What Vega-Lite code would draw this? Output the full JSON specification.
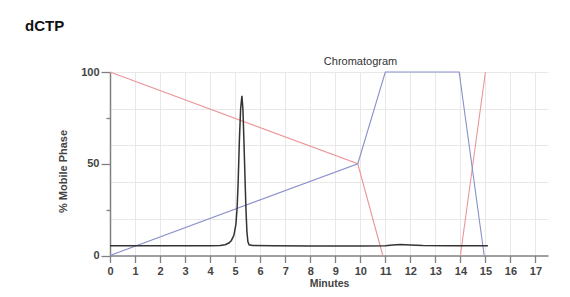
{
  "$schema": "https://vega.github.io/schema/vega-lite/v6.json",
  "autosize": "none",
  "width": 438,
  "height": 183.5,
  "padding": {"left": 110, "top": 72, "right": 22, "bottom": 41.5},
  "background": "#ffffff",
  "config": {"font": "Liberation Sans", "view": {"stroke": null}},
  "title": {"text": "dCTP", "anchor": "start", "frame": "group", "dx": -85, "offset": 9, "baseline": "alphabetic", "fontSize": 15, "fontWeight": "bold", "color": "#111111"},
  "datasets": {
    "chrom": [
      {"t": 0, "v": 5.3}, {"t": 1, "v": 5.3}, {"t": 2, "v": 5.3}, {"t": 3, "v": 5.3}, {"t": 4, "v": 5.3},
      {"t": 4.4, "v": 5.5}, {"t": 4.6, "v": 5.9}, {"t": 4.75, "v": 6.8}, {"t": 4.85, "v": 8.2}, {"t": 4.95, "v": 11},
      {"t": 5.03, "v": 17}, {"t": 5.08, "v": 26}, {"t": 5.12, "v": 40}, {"t": 5.17, "v": 63}, {"t": 5.22, "v": 80},
      {"t": 5.27, "v": 87}, {"t": 5.31, "v": 80}, {"t": 5.35, "v": 63}, {"t": 5.39, "v": 44}, {"t": 5.43, "v": 26},
      {"t": 5.47, "v": 13}, {"t": 5.51, "v": 7.5}, {"t": 5.56, "v": 5.8}, {"t": 5.7, "v": 5.4}, {"t": 6.5, "v": 5.3},
      {"t": 8, "v": 5.2}, {"t": 10, "v": 5.2}, {"t": 11, "v": 5.3}, {"t": 11.3, "v": 5.7}, {"t": 11.6, "v": 6.0},
      {"t": 12, "v": 5.7}, {"t": 12.5, "v": 5.4}, {"t": 13.5, "v": 5.3}, {"t": 15.1, "v": 5.3}
    ],
    "grad": [
      {"series": "A", "seg": "r1", "t": 0, "v": 100},
      {"series": "A", "seg": "r1", "t": 9.9, "v": 50},
      {"series": "A", "seg": "r1", "t": 10.9, "v": 0},
      {"series": "A", "seg": "r2", "t": 14, "v": 0},
      {"series": "A", "seg": "r2", "t": 15, "v": 100},
      {"series": "B", "seg": "b", "t": 0, "v": 0},
      {"series": "B", "seg": "b", "t": 9.9, "v": 50},
      {"series": "B", "seg": "b", "t": 11, "v": 100},
      {"series": "B", "seg": "b", "t": 13.95, "v": 100},
      {"series": "B", "seg": "b", "t": 14.95, "v": 0}
    ]
  },
  "resolve": {"axis": {"x": "independent", "y": "independent"}},
  "layer": [
    {
      "data": {"name": "grad"},
      "mark": {"type": "line", "strokeWidth": 1.1, "clip": false},
      "encoding": {
        "x": {"field": "t", "type": "quantitative", "scale": {"domain": [0, 17.5], "nice": false},
          "axis": {"orient": "top", "domain": false, "ticks": false, "labels": false, "grid": false,
            "title": "Chromatogram", "titleFontSize": 11, "titleFontWeight": "normal", "titleColor": "#333333",
            "titleX": 250, "titleY": -8, "titleBaseline": "alphabetic"}},
        "y": {"field": "v", "type": "quantitative", "scale": {"domain": [0, 100], "nice": false},
          "axis": {"orient": "right", "domain": false, "ticks": false, "labels": false, "title": null,
            "grid": true, "values": [20, 40, 60, 80, 100], "gridColor": "#e8e8e8", "gridWidth": 1}},
        "color": {"field": "series", "type": "nominal", "scale": {"domain": ["A", "B"], "range": ["#ec959b", "#8a8fcb"]}, "legend": null},
        "detail": {"field": "seg"}
      }
    },
    {
      "data": {"name": "chrom"},
      "mark": {"type": "line", "color": "#333333", "strokeWidth": 1.5, "clip": false},
      "encoding": {
        "x": {"field": "t", "type": "quantitative", "scale": {"domain": [0, 17.5], "nice": false},
          "axis": {"orient": "bottom", "values": [0,1,2,3,4,5,6,7,8,9,10,11,12,13,14,15,16,17],
            "grid": true, "gridColor": "#e8e8e8", "gridWidth": 1,
            "domainColor": "#808080", "domainWidth": 1.5, "tickColor": "#808080", "tickWidth": 1.3, "tickSize": 7,
            "labelFontSize": 11, "labelFontWeight": "bold", "labelColor": "#444444", "labelPadding": 3, "labelFlush": false,
            "title": "Minutes", "titleFontSize": 10.5, "titleFontWeight": "bold", "titleColor": "#444444", "titlePadding": 2}},
        "y": {"field": "v", "type": "quantitative", "scale": {"domain": [0, 100], "nice": false},
          "axis": {"orient": "left", "values": [0, 25, 50, 75, 100], "grid": false,
            "labelExpr": "datum.value % 50 === 0 ? datum.label : ''",
            "domainColor": "#808080", "domainWidth": 1.5, "tickColor": "#808080", "tickWidth": 1.3,
            "tickSize": {"condition": {"test": "datum.value % 50 === 0", "value": 9}, "value": 4},
            "labelFontSize": 11, "labelFontWeight": "bold", "labelColor": "#444444", "labelPadding": 2,
            "title": "% Mobile Phase", "titleFontSize": 11, "titleFontWeight": "bold", "titleColor": "#444444",
            "titleX": -47, "titleY": 99, "titleBaseline": "middle"}}
      }
    }
  ]
}
